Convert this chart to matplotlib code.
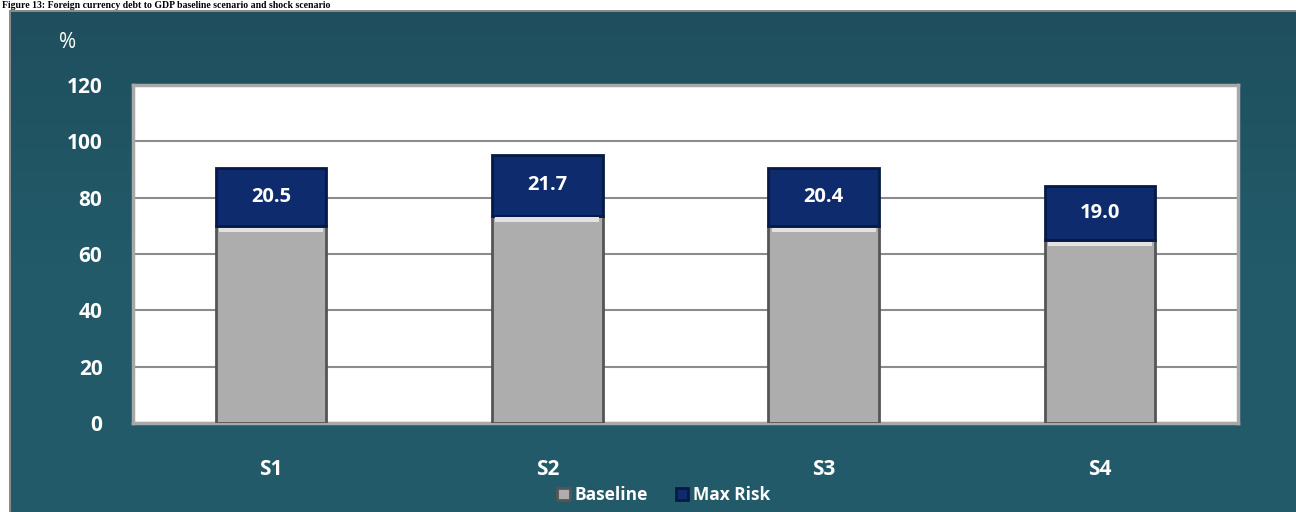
import matplotlib
matplotlib.use("Agg")
import matplotlib.pyplot as plt
import numpy as np
from matplotlib.patches import Rectangle
from matplotlib.colors import LinearSegmentedColormap

categories = ["S1", "S2", "S3", "S4"]
baseline = [70.0, 73.6, 70.0, 65.0]
max_risk = [20.5, 21.7, 20.4, 19.0]
yticks = [0, 20, 40, 60, 80, 100, 120]

FONT = "Open Sans"
W, H = 1296, 512
fig = plt.figure(figsize=(W / 100, H / 100), dpi=100, facecolor="white")

# teal panel background with slight vertical gradient
bg = fig.add_axes([11 / W, 0, 1 - 11 / W, 1 - 11 / H])
grad = np.linspace(0, 1, 256).reshape(-1, 1)
cmap = LinearSegmentedColormap.from_list("teal", ["#1f4f5e", "#225a69", "#235b6a"])
bg.imshow(grad, aspect="auto", cmap=cmap, extent=[0, 1, 0, 1], origin="upper")
bg.set_axis_off()
fig.add_artist(Rectangle((9 / W, 0), 2 / W, 1 - 11 / H, transform=fig.transFigure,
                         facecolor="#8a8a8a", edgecolor="none"))
fig.add_artist(Rectangle((9 / W, 1 - 12 / H), 1 - 9 / W, 2 / H, transform=fig.transFigure,
                         facecolor="#8a8a8a", edgecolor="none"))

# title in the thin white strip at the top
fig.text(2 / W, 1 - 1 / H, "Figure 13: Foreign currency debt to GDP baseline scenario and shock scenario",
         family="Liberation Serif", fontweight="bold", fontsize=7, color="black",
         va="top", ha="left")

ax = fig.add_axes([133 / W, (H - 423) / H, (1238 - 133) / W, (423 - 85) / H])
ax.set_facecolor("white")
x = np.arange(len(categories)) + 0.5
width = 0.40

ax.set_axisbelow(True)
ax.yaxis.grid(True, color="#8c8c8c", linewidth=1.5)

ax.bar(x, baseline, width=width, color="#adadad", edgecolor="#555555", linewidth=2,
       label="Baseline", zorder=3)
ax.bar(x, max_risk, width=width, bottom=baseline, color="#0d2b6d", edgecolor="#061a45",
       linewidth=2, label="Max Risk", zorder=3)

# light bevel strip at top of baseline bars
for xi, b in zip(x, baseline):
    ax.bar(xi, 1.6, width=width * 0.94, bottom=b - 2.2, color="#e2e2e2", edgecolor="none", zorder=4)

for xi, b, m in zip(x, baseline, max_risk):
    ax.text(xi, b + m / 2, f"{m:.1f}", ha="center", va="center", color="white",
            fontsize=14.5, fontweight="bold", family=FONT, zorder=5)

ax.set_xlim(0, 4)
ax.set_ylim(0, 120)
ax.set_yticks(yticks)
ax.set_yticklabels([str(t) for t in yticks])
ax.set_xticks(x)
ax.set_xticklabels(categories)
ax.tick_params(axis="both", length=0, colors="white", labelsize=15)
ax.tick_params(axis="y", pad=22)
ax.tick_params(axis="x", pad=26)
for lab in ax.get_xticklabels() + ax.get_yticklabels():
    lab.set_fontweight("bold")
    lab.set_family(FONT)
for s in ax.spines.values():
    s.set_color("#a8a8a8")
    s.set_linewidth(2.5)

fig.text(68 / W, 1 - 43 / H, "%", color="white", fontsize=15, family=FONT,
         ha="center", va="center")

handles, labels = ax.get_legend_handles_labels()
leg = fig.legend(handles[:2], labels[:2], loc="center", bbox_to_anchor=(664 / W, 1 - 495 / H),
                 ncol=2, frameon=False, handlelength=0.7, handleheight=0.7,
                 handletextpad=0.3, columnspacing=1.6,
                 prop={"family": FONT, "weight": "bold", "size": 12.5})
for t in leg.get_texts():
    t.set_color("white")

fig.savefig("out.png", dpi=100, facecolor="white")
